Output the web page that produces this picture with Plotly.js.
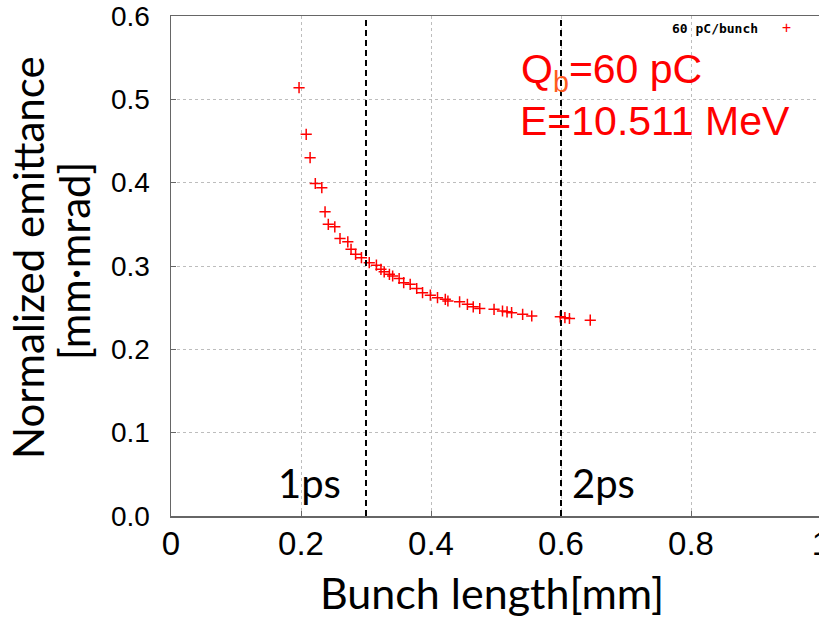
<!DOCTYPE html>
<html>
<head>
<meta charset="utf-8">
<script src="https://cdn.plot.ly/plotly-3.0.1.min.js"></script>
<style>
html, body { margin: 0; padding: 0; overflow: hidden; background: #fff; }
#chart { width: 825px; height: 617px; }
</style>
</head>
<body>
<div id="chart"></div>
<script>
// Bunch length [mm]
const bunchLength = [0.197, 0.208, 0.214, 0.222, 0.232, 0.237, 0.242, 0.252, 0.260, 0.272,
  0.277, 0.284, 0.293, 0.305, 0.316, 0.323, 0.328, 0.336, 0.341, 0.351,
  0.358, 0.368, 0.378, 0.387, 0.399, 0.410, 0.422, 0.426, 0.444, 0.456,
  0.465, 0.475, 0.497, 0.510, 0.517, 0.524, 0.541, 0.555, 0.599, 0.606,
  0.613, 0.645];
// Normalized emittance [mm·mrad]
const emittance = [0.514, 0.458, 0.430, 0.399, 0.394, 0.365, 0.350, 0.347, 0.333, 0.329,
  0.320, 0.314, 0.310, 0.304, 0.301, 0.296, 0.293, 0.290, 0.288, 0.285,
  0.280, 0.278, 0.273, 0.268, 0.265, 0.262, 0.260, 0.258, 0.257, 0.254,
  0.251, 0.249, 0.248, 0.246, 0.245, 0.244, 0.242, 0.240, 0.239, 0.238,
  0.237, 0.235];
const seriesName = '60 pC/bunch';
// Reference bunch lengths (1 ps and 2 ps)
const refLengths = [0.3, 0.6];
const refLabels = ['1ps', '2ps'];
const xTicks = [0, 0.2, 0.4, 0.6, 0.8, 1];
const yTicks = [0.0, 0.1, 0.2, 0.3, 0.4, 0.5, 0.6];

const trace = {
  x: bunchLength, y: emittance, type: 'scatter', mode: 'markers', name: seriesName,
  marker: { symbol: 'cross-thin', size: 8, color: '#ff0000', line: { color: '#ff0000', width: 1.5 } },
  showlegend: false, cliponaxis: false
};

const shapes = refLengths.map(v => ({
  type: 'line', xref: 'x', yref: 'paper', x0: v, x1: v, y0: 0, y1: 1,
  line: { color: '#000', width: 2, dash: '6px,4px' }
}));

const bigFont = 'Lato, "Open Sans", sans-serif';
const annotations = [
  { xref: 'x', yref: 'paper', x: refLengths[0], y: (516 - 483) / 500, xanchor: 'right', yanchor: 'middle',
    xshift: -23, text: refLabels[0], showarrow: false, font: { family: bigFont, size: 40, color: '#000' } },
  { xref: 'x', yref: 'paper', x: refLengths[1], y: (516 - 483) / 500, xanchor: 'left', yanchor: 'middle',
    xshift: 9, text: refLabels[1], showarrow: false, font: { family: bigFont, size: 40, color: '#000' } },
  { xref: 'paper', yref: 'paper', x: (519 - 171) / 650, y: (516 - 72) / 500, xanchor: 'left', yanchor: 'middle',
    text: 'Q<sub><span style="color:#ff5a1e">b</span></sub>=60 pC', showarrow: false,
    font: { family: 'Liberation Sans, Arial, sans-serif', size: 41, color: '#ff0000' } },
  { xref: 'paper', yref: 'paper', x: (518 - 171) / 650, y: (516 - 121) / 500, xanchor: 'left', yanchor: 'middle',
    text: 'E=10.511 MeV', showarrow: false,
    font: { family: 'Liberation Sans, Arial, sans-serif', size: 41, color: '#ff0000' } },
  { xref: 'paper', yref: 'paper', x: (760 - 171) / 650, y: (516 - 28) / 500, xanchor: 'right', yanchor: 'middle',
    text: '<b>' + seriesName + '</b>', showarrow: false,
    font: { family: '"DejaVu Sans Mono", "Liberation Mono", monospace', size: 13, color: '#000' } },
  { xref: 'paper', yref: 'paper', x: (786 - 171) / 650, y: (516 - 28) / 500, xanchor: 'center', yanchor: 'middle',
    text: '+', showarrow: false,
    font: { family: '"DejaVu Sans Mono", monospace', size: 15, color: '#ff0000' } },
  // y-axis title, two lines
  { xref: 'paper', yref: 'paper', x: (28 - 171) / 650, y: (516 - 258) / 500, xanchor: 'center', yanchor: 'middle',
    textangle: -90, text: 'Normalized emittance', showarrow: false,
    font: { family: bigFont, size: 42, color: '#000' } },
  { xref: 'paper', yref: 'paper', x: (74 - 171) / 650, y: (516 - 261) / 500, xanchor: 'center', yanchor: 'middle',
    textangle: -90, text: '[mm·mrad]', showarrow: false,
    font: { family: bigFont, size: 42, color: '#000' } },
  // x-axis title
  { xref: 'paper', yref: 'paper', x: (492 - 171) / 650, y: -(592 - 516) / 500, xanchor: 'center', yanchor: 'middle',
    text: 'Bunch length[mm]', showarrow: false,
    font: { family: bigFont, size: 43, color: '#000' } }
];

const layout = {
  width: 825, height: 617,
  margin: { l: 171, r: 4, t: 16, b: 101, pad: 0 },
  paper_bgcolor: '#fff', plot_bgcolor: '#fff',
  showlegend: false,
  xaxis: {
    range: [0, 1], tickvals: xTicks, ticktext: xTicks.map(v => String(v)),
    showgrid: true, gridcolor: '#bdbdbd', griddash: 'dot', gridwidth: 1,
    zeroline: false, showline: true, linecolor: '#666', linewidth: 1.5, mirror: true,
    ticks: 'inside', ticklen: 5, tickcolor: '#666',
    ticklabeloverflow: 'allow', ticklabelstandoff: -2,
    tickfont: { family: 'Liberation Sans, Arial, sans-serif', size: 33, color: '#000' }
  },
  yaxis: {
    range: [0, 0.6], tickvals: yTicks, ticktext: yTicks.map(v => v.toFixed(1)),
    showgrid: true, gridcolor: '#bdbdbd', griddash: 'dot', gridwidth: 1,
    zeroline: false, showline: true, linecolor: '#666', linewidth: 1.5, mirror: true,
    ticks: 'inside', ticklen: 5, tickcolor: '#666',
    ticklabelstandoff: 14,
    tickfont: { family: 'Liberation Sans, Arial, sans-serif', size: 28, color: '#000' }
  },
  shapes: shapes,
  annotations: annotations
};

Plotly.newPlot('chart', [trace], layout, { displayModeBar: false, staticPlot: true });
</script>
</body>
</html>
